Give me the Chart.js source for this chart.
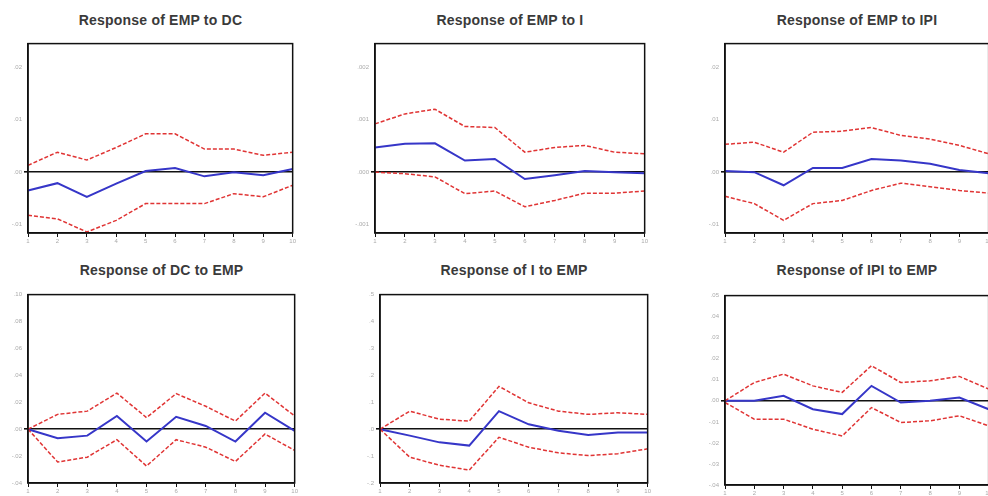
<!DOCTYPE html>
<html>
<head>
<meta charset="utf-8">
<script src="https://cdn.jsdelivr.net/npm/chart.js@4.4.1/dist/chart.umd.min.js"></script>
<style>
  html, body { margin: 0; padding: 0; background: #fff; overflow: hidden; }
  #wrap { position: relative; width: 988px; height: 496px; overflow: hidden; }
  canvas { position: absolute; }
  .ptitle {
    position: absolute; text-align: center; white-space: nowrap;
    font-family: "Liberation Sans", Arial, sans-serif; font-size: 14px; font-weight: bold;
    line-height: 16px; color: #3a3a3a; letter-spacing: 0.2px;
  }
</style>
</head>
<body>
<div id="wrap"></div>
<script>
// Periods
const periods = ['1', '2', '3', '4', '5', '6', '7', '8', '9', '10'];

// Response of EMP to DC
const irf1   = [-0.0035, -0.0021, -0.0047, -0.0022, 0.0002, 0.0008, -0.0008, 0.0000, -0.0006, 0.0006];
const upper1 = [0.0013, 0.0038, 0.0023, 0.0047, 0.0073, 0.0073, 0.0044, 0.0044, 0.0032, 0.0038];
const lower1 = [-0.0082, -0.0089, -0.0114, -0.0092, -0.0060, -0.0060, -0.0060, -0.0041, -0.0047, -0.0025];
const tickVals1   = [-0.01, 0, 0.01, 0.02];
const tickLabels1 = ['-.01', '.00', '.01', '.02'];

// Response of EMP to I
const irf2   = [0.00047, 0.00054, 0.00055, 0.00022, 0.00025, -0.00013, -0.00006, 0.00002, 0.00000, -0.00002];
const upper2 = [0.00092, 0.00111, 0.00120, 0.00087, 0.00085, 0.00038, 0.00047, 0.00051, 0.00038, 0.00035];
const lower2 = [0.00000, -0.00003, -0.00009, -0.00041, -0.00036, -0.00066, -0.00054, -0.00040, -0.00040, -0.00036];
const tickVals2   = [-0.001, 0, 0.001, 0.002];
const tickLabels2 = ['-.001', '.000', '.001', '.002'];

// Response of EMP to IPI
const irf3   = [0.0002, 0.0000, -0.0025, 0.0008, 0.0008, 0.0025, 0.0022, 0.0016, 0.0004, -0.0002];
const upper3 = [0.0053, 0.0057, 0.0038, 0.0076, 0.0078, 0.0085, 0.0070, 0.0063, 0.0051, 0.0035];
const lower3 = [-0.0046, -0.0060, -0.0092, -0.0060, -0.0054, -0.0035, -0.0021, -0.0028, -0.0035, -0.0040];
const tickVals3   = [-0.01, 0, 0.01, 0.02];
const tickLabels3 = ['-.01', '.00', '.01', '.02'];

// Response of DC to EMP
const irf4   = [0.0000, -0.0068, -0.0048, 0.0098, -0.0092, 0.0092, 0.0024, -0.0092, 0.0122, -0.0012];
const upper4 = [0.0000, 0.0110, 0.0134, 0.0268, 0.0086, 0.0264, 0.0170, 0.0060, 0.0268, 0.0098];
const lower4 = [0.0000, -0.0244, -0.0208, -0.0078, -0.0274, -0.0078, -0.0134, -0.0240, -0.0036, -0.0158];
const tickVals4   = [-0.04, -0.02, 0, 0.02, 0.04, 0.06, 0.08, 0.10];
const tickLabels4 = ['-.04', '-.02', '.00', '.02', '.04', '.06', '.08', '.10'];

// Response of I to EMP
const irf5   = [0.000, -0.024, -0.049, -0.061, 0.067, 0.018, -0.006, -0.022, -0.012, -0.012];
const upper5 = [0.000, 0.067, 0.037, 0.030, 0.159, 0.098, 0.067, 0.055, 0.061, 0.055];
const lower5 = [0.000, -0.104, -0.134, -0.152, -0.030, -0.067, -0.088, -0.098, -0.091, -0.073];
const tickVals5   = [-0.2, -0.1, 0, 0.1, 0.2, 0.3, 0.4, 0.5];
const tickLabels5 = ['-.2', '-.1', '.0', '.1', '.2', '.3', '.4', '.5'];

// Response of IPI to EMP
const irf6   = [0.0000, 0.0000, 0.0024, -0.0040, -0.0063, 0.0071, -0.0008, 0.0000, 0.0016, -0.0040];
const upper6 = [0.0000, 0.0087, 0.0127, 0.0071, 0.0040, 0.0167, 0.0087, 0.0095, 0.0116, 0.0056];
const lower6 = [-0.0008, -0.0087, -0.0087, -0.0135, -0.0167, -0.0032, -0.0103, -0.0095, -0.0071, -0.0119];
const tickVals6   = [-0.04, -0.03, -0.02, -0.01, 0, 0.01, 0.02, 0.03, 0.04, 0.05];
const tickLabels6 = ['-.04', '-.03', '-.02', '-.01', '.00', '.01', '.02', '.03', '.04', '.05'];


const blue = '#3636c8';
const red = '#e03434';

// box around the chart area
const framePlugin = {
  id: 'frame',
  afterDraw(chart) {
    const a = chart.chartArea;
    const ctx = chart.ctx;
    ctx.save();
    ctx.strokeStyle = '#111';
    ctx.lineWidth = 1.5;
    ctx.strokeRect(a.left, a.top, a.right - a.left, a.bottom - a.top);
    ctx.restore();
  }
};

function createIrfChart(box, title, irf, upper, lower, tickVals, tickLabels, ymin, ymax) {
  const wrap = document.getElementById('wrap');
  const padL = 30, padT = 4, padR = 4, padB = 16;

  const t = document.createElement('div');
  t.className = 'ptitle';
  t.style.left = box.l + 'px';
  t.style.width = (box.r - box.l) + 'px';
  t.style.top = box.title + 'px';
  t.textContent = title;
  wrap.appendChild(t);

  const cv = document.createElement('canvas');
  cv.width = box.r - box.l + padL + padR;
  cv.height = box.b - box.t + padT + padB;
  cv.style.left = (box.l - padL) + 'px';
  cv.style.top = (box.t - padT) + 'px';
  wrap.appendChild(cv);

  const lineDs = (data, color, dash, width) => ({
    data: data,
    borderColor: color,
    borderWidth: width,
    borderDash: dash,
    pointRadius: 0,
    tension: 0,
    fill: false
  });

  return new Chart(cv, {
    type: 'line',
    data: {
      labels: periods,
      datasets: [
        lineDs(upper, red, [4, 2], 1.5),
        lineDs(lower, red, [4, 2], 1.5),
        lineDs(irf, blue, [], 2)
      ]
    },
    options: {
      responsive: false,
      animation: false,
      layout: { padding: { top: padT, right: padR, left: 0, bottom: 0 } },
      plugins: { legend: { display: false }, tooltip: { enabled: false } },
      scales: {
        x: {
          offset: false,
          grid: { drawOnChartArea: false, drawTicks: true, tickLength: 4, tickColor: '#111' },
          border: { color: '#111', width: 1.5 },
          ticks: { color: '#aaa', font: { size: 6 }, padding: 1, maxRotation: 0, autoSkip: false },
          afterFit: s => { s.height = padB; }
        },
        y: {
          min: ymin,
          max: ymax,
          afterBuildTicks: s => { s.ticks = tickVals.map(v => ({ value: v })); },
          afterFit: s => { s.width = padL; },
          grid: {
            drawTicks: true,
            tickLength: 4,
            tickColor: '#111',
            color: c => (c.tick && c.tick.value === 0) ? '#111' : 'rgba(0,0,0,0)',
            lineWidth: c => (c.tick && c.tick.value === 0) ? 1.6 : 0
          },
          border: { color: '#111', width: 1.5 },
          ticks: {
            color: '#aaa',
            font: { size: 6 },
            padding: 2,
            callback: (v, i) => tickLabels[i]
          }
        }
      }
    },
    plugins: [framePlugin]
  });
}

// Panels
createIrfChart({ l: 28,  r: 293, t: 42,  b: 233, title: 12 },  'Response of EMP to DC',  irf1, upper1, lower1, tickVals1, tickLabels1, -0.0116, 0.0245);
createIrfChart({ l: 375, r: 645, t: 42,  b: 233, title: 12 },  'Response of EMP to I',   irf2, upper2, lower2, tickVals2, tickLabels2, -0.00116, 0.00245);
createIrfChart({ l: 725, r: 989, t: 42,  b: 233, title: 12 },  'Response of EMP to IPI', irf3, upper3, lower3, tickVals3, tickLabels3, -0.0116, 0.0245);
createIrfChart({ l: 28,  r: 295, t: 293, b: 483, title: 262 }, 'Response of DC to EMP',  irf4, upper4, lower4, tickVals4, tickLabels4, -0.04, 0.10);
createIrfChart({ l: 380, r: 648, t: 293, b: 483, title: 262 }, 'Response of I to EMP',   irf5, upper5, lower5, tickVals5, tickLabels5, -0.2, 0.5);
createIrfChart({ l: 725, r: 989, t: 294, b: 485, title: 262 }, 'Response of IPI to EMP', irf6, upper6, lower6, tickVals6, tickLabels6, -0.04, 0.05);
</script>
</body>
</html>
